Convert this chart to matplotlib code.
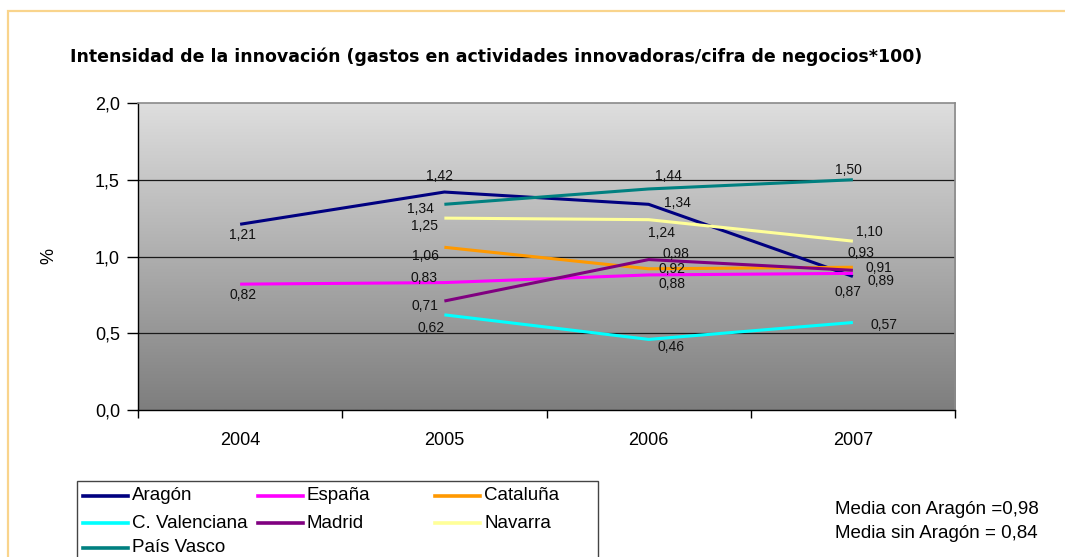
import numpy as np
import matplotlib
matplotlib.use("Agg")
import matplotlib.pyplot as plt
from matplotlib.colors import LinearSegmentedColormap
from matplotlib.lines import Line2D
from matplotlib.patches import Rectangle

plt.rcParams['font.family'] = ['Liberation Sans', 'DejaVu Sans']

# ---------------- data ----------------
years = ["2004", "2005", "2006", "2007"]
series_names = ["Aragón", "España", "Cataluña", "C. Valenciana", "Madrid", "Navarra", "País Vasco"]
aragon = [1.21, 1.42, 1.34, 0.87]
espana = [0.82, 0.83, 0.88, 0.89]
cataluna = [np.nan, 1.06, 0.92, 0.93]
valenciana = [np.nan, 0.62, 0.46, 0.57]
madrid = [np.nan, 0.71, 0.98, 0.91]
navarra = [np.nan, 1.25, 1.24, 1.10]
pais_vasco = [np.nan, 1.34, 1.44, 1.50]
yticks = [0.0, 0.5, 1.0, 1.5, 2.0]
title = "Intensidad de la innovación (gastos en actividades innovadoras/cifra de negocios*100)"
note_lines = ["Media con Aragón =0,98", "Media sin Aragón = 0,84"]

values = [aragon, espana, cataluna, valenciana, madrid, navarra, pais_vasco]
colors = ["#000080", "#FF00FF", "#FF9900", "#00FFFF", "#800080", "#FFFF99", "#008080"]

# label offsets (pixels) per series per year -- layout only
label_offsets = [
    [(2, -11), (-5, 16), (29, 1), (-5, -16)],
    [(3, -11), (-20, 5), (23, -9), (28, -8)],
    [None, (-19, -9), (23, 0), (8, 14)],
    [None, (-13, -13), (22, -8), (31, -2)],
    [None, (-19, -5), (27, 6), (26, 2)],
    [None, (-20, -8), (13, -13), (16, 9)],
    [None, (-24, -5), (20, 13), (-4, 10)],
]

W, H = 1065, 557
fig = plt.figure(figsize=(W / 100, H / 100), dpi=100)
fig.patch.set_facecolor("white")

# outer orange frame
fig.patches.append(Rectangle((8 / W, 0 - 0.1), 1.2, (H - 11) / H + 0.1, transform=fig.transFigure,
                             fill=False, edgecolor="#F9D48C", linewidth=1.6, clip_on=False))

ax = fig.add_axes([138 / W, (H - 410) / H, (955 - 138) / W, (410 - 103) / H])
x = np.arange(len(years))
ax.set_xlim(-0.5, len(years) - 0.5)
ax.set_ylim(0, 2.0)

# gradient background
cmap = LinearSegmentedColormap.from_list("g", ["#dedede", "#7e7e7e"])
grad = np.linspace(0, 1, 256).reshape(-1, 1)
ax.imshow(grad, extent=[-0.5, len(years) - 0.5, 0, 2.0], aspect="auto", cmap=cmap,
          origin="upper", zorder=0)

for yv in yticks[1:-1]:
    ax.axhline(yv, color="#1a1a1a", linewidth=0.9, zorder=1)

for vals, col in zip(values, colors):
    ax.plot(x, vals, color=col, linewidth=2.2, zorder=3, solid_capstyle="butt")

for vals, offs in zip(values, label_offsets):
    for i, v in enumerate(vals):
        if np.isnan(v) or offs[i] is None:
            continue
        ax.annotate(f"{v:.2f}".replace(".", ","), (x[i], v), xytext=offs[i],
                    textcoords="offset pixels", ha="center", va="center",
                    fontsize=10, color="#111111", zorder=5)

# spines
for s in ["top", "right"]:
    ax.spines[s].set_color("#8a8a8a")
    ax.spines[s].set_linewidth(1.2)
for s in ["left", "bottom"]:
    ax.spines[s].set_color("black")
    ax.spines[s].set_linewidth(1.0)

ax.set_yticks(yticks)
ax.set_yticklabels([f"{t:.1f}".replace(".", ",") for t in yticks], fontsize=13)
ax.tick_params(axis="y", direction="out", length=8, width=1, pad=5)
ax.set_xticks(x)
ax.set_xticklabels(years, fontsize=13)
ax.tick_params(axis="x", length=0, pad=16)
ax.set_xticks(np.arange(-0.5, len(years), 1.0), minor=True)
ax.tick_params(axis="x", which="minor", direction="out", length=6, width=1)
ax.set_ylabel("%", fontsize=13)
ax.yaxis.set_label_coords((57 - 138) / (955 - 138), 0.5)

fig.text(70 / W, 1 - 57 / H, title, fontsize=12.5, fontweight="bold", ha="left", va="center",
         family=["DejaVu Sans"])

# legend box (manual, 3 columns)
fig.patches.append(Rectangle((77 / W, -0.1), (598 - 77) / W, 0.1 + (H - 481) / H,
                             transform=fig.transFigure, fill=False, edgecolor="#444444",
                             linewidth=1.0, clip_on=False))
col_x = [83, 258, 435]
row_y = [496, 523, 548]
for k, (name, col) in enumerate(zip(series_names, colors)):
    r, c = divmod(k, 3)
    lx, ly = col_x[c], row_y[r]
    fig.add_artist(Line2D([lx / W, (lx + 45) / W], [1 - ly / H, 1 - ly / H],
                          transform=fig.transFigure, color=col, linewidth=2.6))
    fig.text((lx + 49) / W, 1 - ly / H, name, fontsize=13.5, ha="left", va="center")

for j, t in enumerate(note_lines):
    fig.text(835 / W, 1 - (509 + 24 * j) / H, t, fontsize=13.5, ha="left", va="center")

fig.savefig("out.png", dpi=100)
